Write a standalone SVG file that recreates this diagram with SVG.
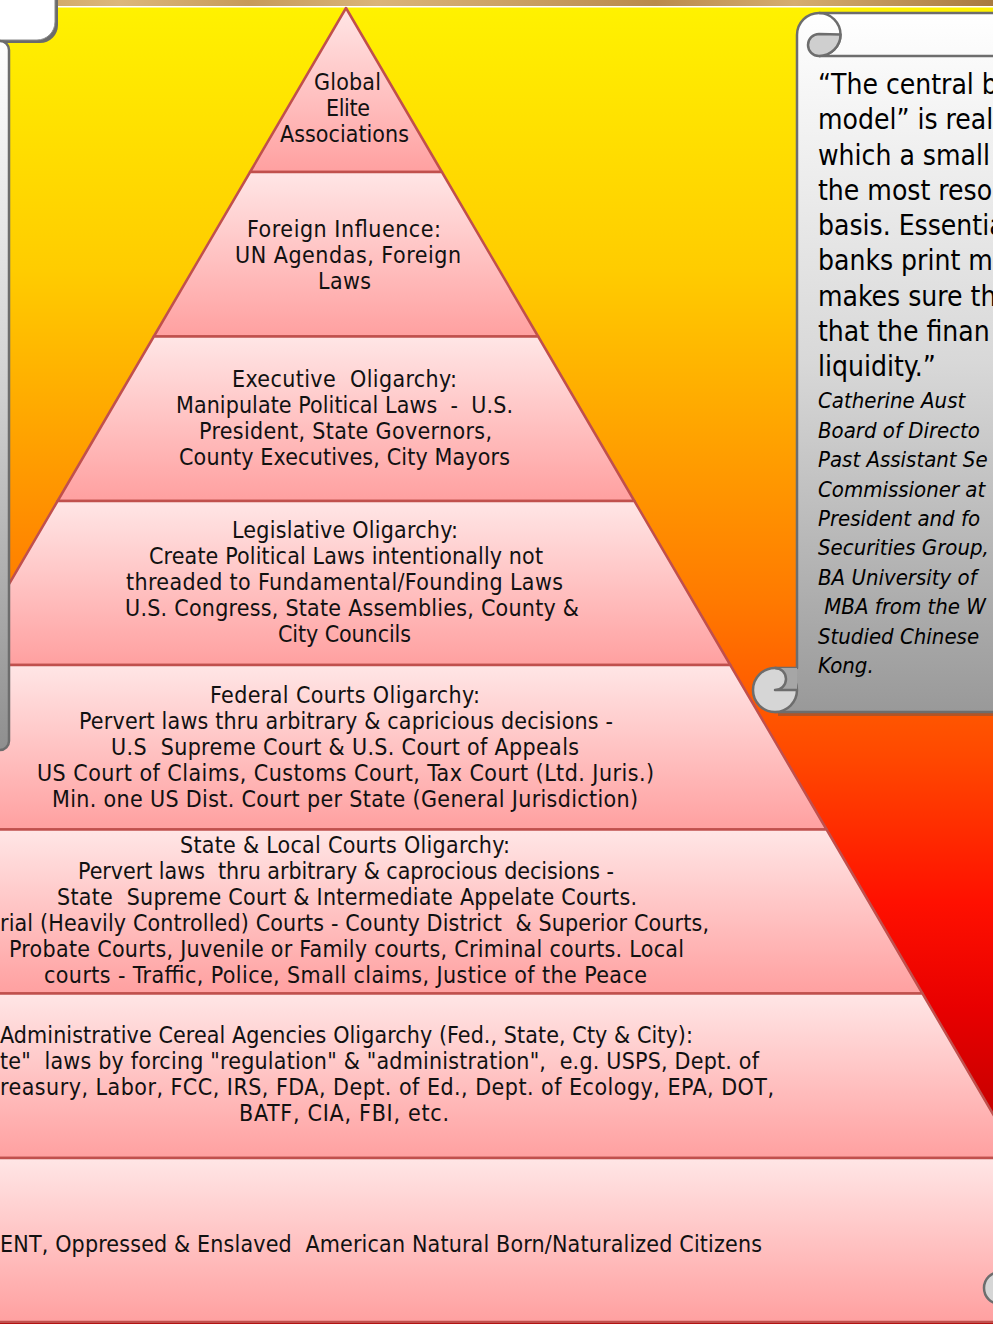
<svg xmlns="http://www.w3.org/2000/svg" width="993" height="1324" viewBox="0 0 993 1324">
<defs>
<linearGradient id="bg" x1="0" y1="7" x2="0" y2="1324" gradientUnits="userSpaceOnUse">
<stop offset="0" stop-color="#fff200"/>
<stop offset="0.2" stop-color="#ffcc00"/>
<stop offset="0.45" stop-color="#ff7a00"/>
<stop offset="0.57" stop-color="#ff4800"/>
<stop offset="0.68" stop-color="#ff1000"/>
<stop offset="0.76" stop-color="#e80000"/>
<stop offset="0.84" stop-color="#c80000"/>
<stop offset="1" stop-color="#b00000"/>
</linearGradient>
<linearGradient id="wood" x1="0" y1="0" x2="993" y2="0" gradientUnits="userSpaceOnUse">
<stop offset="0" stop-color="#c9a05e"/>
<stop offset="0.12" stop-color="#dcb77c"/>
<stop offset="0.25" stop-color="#c69a5a"/>
<stop offset="0.38" stop-color="#dab47a"/>
<stop offset="0.52" stop-color="#caa064"/>
<stop offset="0.66" stop-color="#b98a4c"/>
<stop offset="0.8" stop-color="#d5ad70"/>
<stop offset="1" stop-color="#a87a40"/>
</linearGradient>
<linearGradient id="layer" x1="0" y1="0" x2="0" y2="1">
<stop offset="0" stop-color="#ffe6e6"/>
<stop offset="1" stop-color="#ffa0a0"/>
</linearGradient>
<linearGradient id="scrollR" x1="0" y1="13" x2="0" y2="712" gradientUnits="userSpaceOnUse">
<stop offset="0" stop-color="#ffffff"/>
<stop offset="0.5" stop-color="#d8d8d8"/>
<stop offset="1" stop-color="#999999"/>
</linearGradient>
<linearGradient id="scrollL" x1="0" y1="40" x2="0" y2="750" gradientUnits="userSpaceOnUse">
<stop offset="0" stop-color="#ffffff"/>
<stop offset="0.5" stop-color="#d0d0d0"/>
<stop offset="1" stop-color="#8f8f8f"/>
</linearGradient>
<style>
text{white-space:pre}
.lay{fill:url(#layer);stroke:#c0504d;stroke-width:2.5;stroke-linejoin:round}
.t{font-family:"DejaVu Sans Condensed","DejaVu Sans",sans-serif;font-stretch:condensed;font-size:23px;fill:#111}
.q{font-family:"DejaVu Sans Condensed","DejaVu Sans",sans-serif;font-stretch:condensed;font-size:28px;fill:#000}
.qi{font-family:"DejaVu Sans Condensed","DejaVu Sans",sans-serif;font-stretch:condensed;font-size:22px;font-style:italic;fill:#000}
.scr{stroke:#6d6d6d;stroke-width:2.5;stroke-linejoin:round}
</style>
</defs>

<g id="background">
<rect x="0" y="0" width="993" height="1324" fill="url(#bg)"/>
<rect x="0" y="0" width="993" height="6.5" fill="url(#wood)"/>
<rect x="0" y="6" width="993" height="1.5" fill="#ffffff"/>
</g>

<g id="right-scroll">
<path d="M 800 39 A 22 22 0 0 1 822 17 L 1000 17 L 1000 716 L 778 716 L 778 672 L 800 672 Z" fill="#555" opacity="0.45"/>
<path class="scr" d="M 797 35 A 22 22 0 0 1 819 13 L 1000 13 L 1000 712 L 775 712 L 775 668 L 797 668 Z" fill="url(#scrollR)"/>
<path class="scr" d="M 819 56 L 1000 56" fill="none"/>
<path class="scr" d="M 819 13 A 21.5 21.5 0 0 1 819 56" fill="none"/>
<path class="scr" d="M 819 34 L 840.5 34.5 A 21.5 21.5 0 0 1 819 56 A 11 11 0 0 1 819 34 Z" fill="#cfcfcf"/>
<circle class="scr" cx="775" cy="690" r="22" fill="#d6d6d6"/>
<path d="M 775 668 A 11 11 0 0 1 775 690 L 797 690 L 797 668 Z" fill="#a6a6a6"/>
<path class="scr" d="M 775 668 A 11 11 0 0 1 775 690 L 797 690" fill="none"/>
<text class="q" x="818" y="94">“The central b</text>
<text class="q" x="818" y="129">model” is real</text>
<text class="q" x="818" y="165">which a small</text>
<text class="q" x="818" y="200">the most reso</text>
<text class="q" x="818" y="235">basis. Essentia</text>
<text class="q" x="818" y="270">banks print m</text>
<text class="q" x="818" y="306">makes sure th</text>
<text class="q" x="818" y="341">that the finan</text>
<text class="q" x="818" y="376">liquidity.”</text>
<text class="qi" x="818" y="408">Catherine Aust</text>
<text class="qi" x="818" y="437.5">Board of Directo</text>
<text class="qi" x="818" y="467">Past Assistant Se</text>
<text class="qi" x="818" y="496.5">Commissioner at</text>
<text class="qi" x="818" y="526">President and fo</text>
<text class="qi" x="818" y="555">Securities Group,</text>
<text class="qi" x="818" y="584.5">BA University of</text>
<text class="qi" x="818" y="614"> MBA from the W</text>
<text class="qi" x="818" y="643.5">Studied Chinese</text>
<text class="qi" x="818" y="673">Kong.</text>
</g>

<g id="pyramid">
<g id="layer1">
<polygon class="lay" points="346,8 441.9,172 250.1,172"/>
<text class="t" x="314" y="90" textLength="67" lengthAdjust="spacing">Global</text>
<text class="t" x="326" y="116" textLength="44" lengthAdjust="spacing">Elite</text>
<text class="t" x="280" y="142" textLength="129" lengthAdjust="spacing">Associations</text>
</g>
<g id="layer2">
<polygon class="lay" points="250.1,172 441.9,172 538.2,336.5 153.8,336.5"/>
<text class="t" x="247" y="237" textLength="194" lengthAdjust="spacing">Foreign Influence:</text>
<text class="t" x="235" y="263" textLength="226" lengthAdjust="spacing">UN Agendas, Foreign</text>
<text class="t" x="318" y="289" textLength="53" lengthAdjust="spacing">Laws</text>
</g>
<g id="layer3">
<polygon class="lay" points="153.8,336.5 538.2,336.5 634.4,501 57.6,501"/>
<text class="t" x="232" y="387" textLength="225" lengthAdjust="spacing">Executive  Oligarchy:</text>
<text class="t" x="176" y="413" textLength="337" lengthAdjust="spacing">Manipulate Political Laws  -  U.S.</text>
<text class="t" x="199" y="439" textLength="293" lengthAdjust="spacing">President, State Governors,</text>
<text class="t" x="179" y="465" textLength="331" lengthAdjust="spacing">County Executives, City Mayors</text>
</g>
<g id="layer4">
<polygon class="lay" points="57.6,501 634.4,501 730.3,665 -38.3,665"/>
<text class="t" x="232" y="538" textLength="226" lengthAdjust="spacing">Legislative Oligarchy:</text>
<text class="t" x="149" y="564" textLength="394" lengthAdjust="spacing">Create Political Laws intentionally not</text>
<text class="t" x="126" y="590" textLength="437" lengthAdjust="spacing">threaded to Fundamental/Founding Laws</text>
<text class="t" x="125" y="616" textLength="454" lengthAdjust="spacing">U.S. Congress, State Assemblies, County &amp;</text>
<text class="t" x="278" y="642" textLength="133" lengthAdjust="spacing">City Councils</text>
</g>
<g id="layer5">
<polygon class="lay" points="-38.3,665 730.3,665 826.6,829.5 -134.6,829.5"/>
<text class="t" x="210" y="703" textLength="270" lengthAdjust="spacing">Federal Courts Oligarchy:</text>
<text class="t" x="79" y="729" textLength="534" lengthAdjust="spacing">Pervert laws thru arbitrary &amp; capricious decisions -</text>
<text class="t" x="111" y="755" textLength="468" lengthAdjust="spacing">U.S  Supreme Court &amp; U.S. Court of Appeals</text>
<text class="t" x="37" y="781" textLength="617" lengthAdjust="spacing">US Court of Claims, Customs Court, Tax Court (Ltd. Juris.)</text>
<text class="t" x="52" y="807" textLength="586" lengthAdjust="spacing">Min. one US Dist. Court per State (General Jurisdiction)</text>
</g>
<g id="layer6">
<polygon class="lay" points="-134.6,829.5 826.6,829.5 922.5,993.5 -230.5,993.5"/>
<text class="t" x="180" y="853" textLength="330" lengthAdjust="spacing">State &amp; Local Courts Oligarchy:</text>
<text class="t" x="78" y="879" textLength="536" lengthAdjust="spacing">Pervert laws  thru arbitrary &amp; caprocious decisions -</text>
<text class="t" x="57" y="905" textLength="580" lengthAdjust="spacing">State  Supreme Court &amp; Intermediate Appelate Courts.</text>
<text class="t" x="0" y="931" textLength="709" lengthAdjust="spacing">rial (Heavily Controlled) Courts - County District  &amp; Superior Courts,</text>
<text class="t" x="9" y="957" textLength="675" lengthAdjust="spacing">Probate Courts, Juvenile or Family courts, Criminal courts. Local</text>
<text class="t" x="44" y="983" textLength="603" lengthAdjust="spacing">courts - Traffic, Police, Small claims, Justice of the Peace</text>
</g>
<g id="layer7">
<polygon class="lay" points="-230.5,993.5 922.5,993.5 1018.8,1158 -326.8,1158"/>
<text class="t" x="0" y="1043" textLength="693" lengthAdjust="spacing">Administrative Cereal Agencies Oligarchy (Fed., State, Cty &amp; City):</text>
<text class="t" x="0" y="1069" textLength="759" lengthAdjust="spacing">te"  laws by forcing "regulation" &amp; "administration",  e.g. USPS, Dept. of</text>
<text class="t" x="0" y="1095" textLength="774" lengthAdjust="spacing">reasury, Labor, FCC, IRS, FDA, Dept. of Ed., Dept. of Ecology, EPA, DOT,</text>
<text class="t" x="239" y="1121" textLength="210" lengthAdjust="spacing">BATF, CIA, FBI, etc.</text>
</g>
<g id="layer8">
<polygon class="lay" points="-326.8,1158 1018.8,1158 1114.7,1322 -422.7,1322"/>
<text class="t" x="0" y="1252" textLength="762" lengthAdjust="spacing">ENT, Oppressed &amp; Enslaved  American Natural Born/Naturalized Citizens</text>
</g>
</g>

<g id="left-scroll">
<rect x="-30" y="-20" width="88" height="63" rx="18" fill="#6b6b6b"/>
<rect x="-30" y="-20" width="85" height="60" rx="18" fill="#ffffff" stroke="#8a8a8a" stroke-width="1"/>
<rect class="scr" x="-20" y="41" width="29" height="709" rx="9" fill="url(#scrollL)"/>
</g>

<g id="corner-scroll">
<circle class="scr" cx="1000" cy="1288" r="16" fill="#d6d6d6"/>
</g>
</svg>
